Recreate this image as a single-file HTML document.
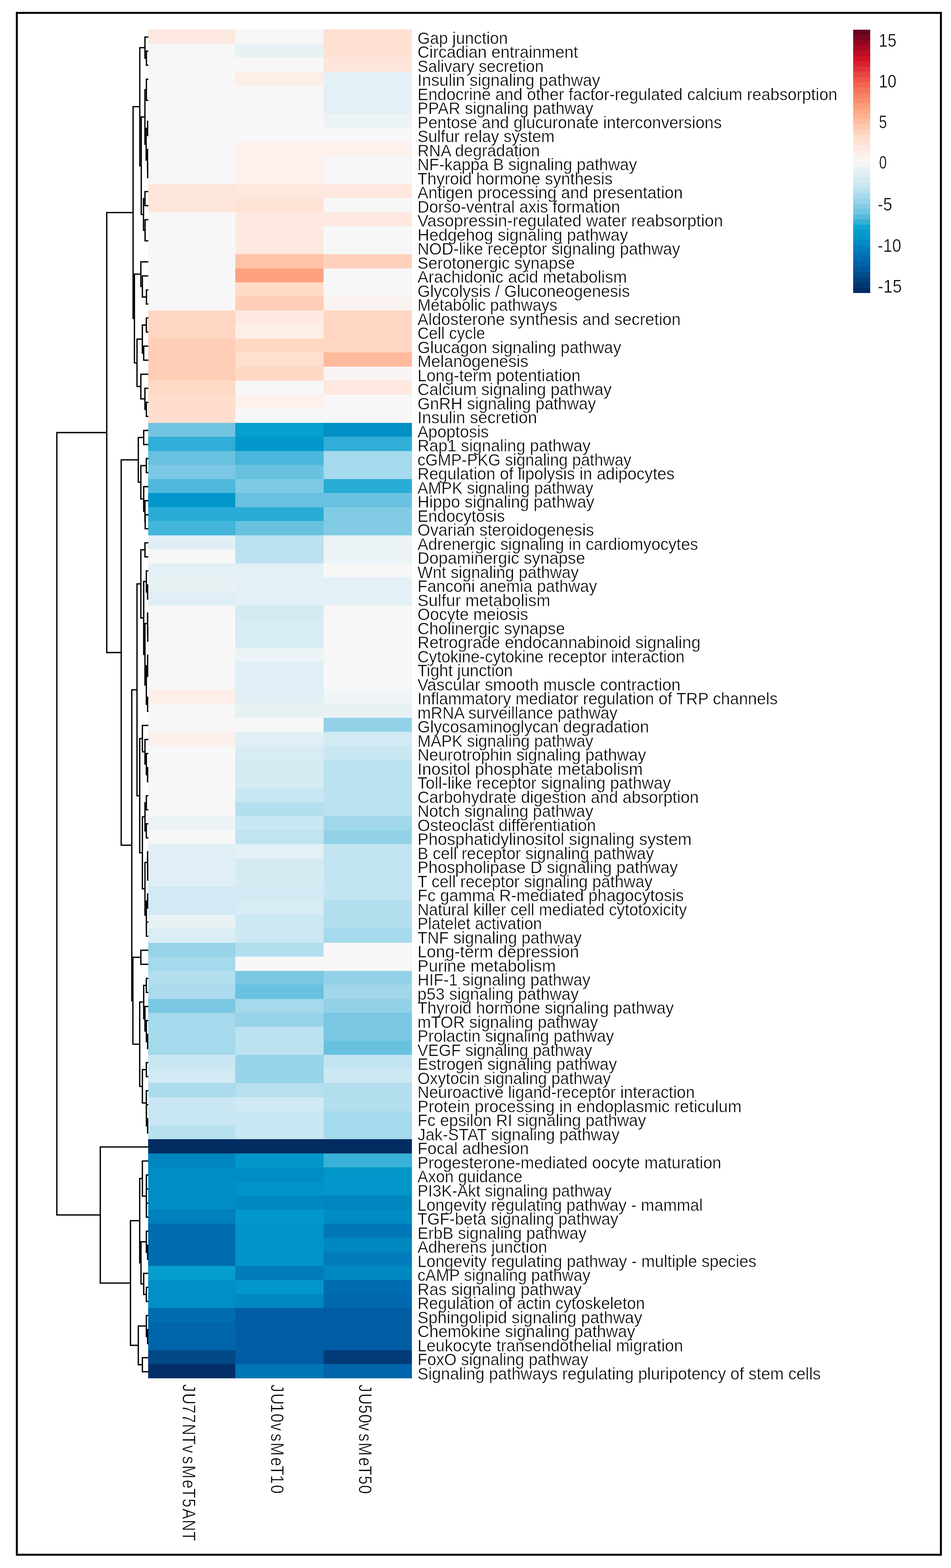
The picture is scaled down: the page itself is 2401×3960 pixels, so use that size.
<!DOCTYPE html>
<html lang="en">
<head>
<meta charset="utf-8">
<title>Pathway heatmap</title>
<style>
html,body{margin:0;padding:0;background:#fff}
body{width:2401px;height:3960px;overflow:hidden}
svg{display:block}
text{font-family:"Liberation Sans",sans-serif;fill:#000;stroke:#fff;stroke-width:0.7px}
.r{font-size:41.9px}
.l{font-size:46px}
.c{font-size:46px}
.d{fill:none;stroke:#000;stroke-width:3.3;stroke-linecap:butt;stroke-linejoin:miter}
</style>
</head>
<body>
<svg width="2401" height="3960" viewBox="0 0 2401 3960">
<rect x="0" y="0" width="2401" height="3960" fill="#fff"/>
<rect x="42.5" y="32.5" width="2333" height="3894" fill="none" stroke="#000" stroke-width="5"/>
<g shape-rendering="crispEdges">
<rect x="374" y="74.4" width="220.5" height="35.98" fill="#fee9e1"/>
<rect x="594" y="74.4" width="223" height="35.98" fill="#f7f7f7"/>
<rect x="816.5" y="74.4" width="223" height="35.98" fill="#ffe1d2"/>
<rect x="374" y="109.88" width="220.5" height="35.98" fill="#f7f7f7"/>
<rect x="594" y="109.88" width="223" height="35.98" fill="#e8f2f5"/>
<rect x="816.5" y="109.88" width="223" height="35.98" fill="#ffe1d2"/>
<rect x="374" y="145.36" width="220.5" height="35.98" fill="#f7f7f7"/>
<rect x="594" y="145.36" width="223" height="35.98" fill="#f7f7f7"/>
<rect x="816.5" y="145.36" width="223" height="35.98" fill="#fee5d9"/>
<rect x="374" y="180.84" width="220.5" height="35.98" fill="#f7f7f7"/>
<rect x="594" y="180.84" width="223" height="35.98" fill="#fdeee8"/>
<rect x="816.5" y="180.84" width="223" height="35.98" fill="#e3f0f5"/>
<rect x="374" y="216.32" width="220.5" height="35.98" fill="#f7f7f7"/>
<rect x="594" y="216.32" width="223" height="35.98" fill="#f7f7f7"/>
<rect x="816.5" y="216.32" width="223" height="35.98" fill="#e3f0f5"/>
<rect x="374" y="251.8" width="220.5" height="35.98" fill="#f7f7f7"/>
<rect x="594" y="251.8" width="223" height="35.98" fill="#f7f7f7"/>
<rect x="816.5" y="251.8" width="223" height="35.98" fill="#e3f0f5"/>
<rect x="374" y="287.28" width="220.5" height="35.98" fill="#f7f7f7"/>
<rect x="594" y="287.28" width="223" height="35.98" fill="#f7f7f7"/>
<rect x="816.5" y="287.28" width="223" height="35.98" fill="#ecf3f6"/>
<rect x="374" y="322.76" width="220.5" height="35.98" fill="#f7f7f7"/>
<rect x="594" y="322.76" width="223" height="35.98" fill="#f7f7f7"/>
<rect x="816.5" y="322.76" width="223" height="35.98" fill="#f7f7f7"/>
<rect x="374" y="358.24" width="220.5" height="35.98" fill="#f7f7f7"/>
<rect x="594" y="358.24" width="223" height="35.98" fill="#fcf1ed"/>
<rect x="816.5" y="358.24" width="223" height="35.98" fill="#fcf1ed"/>
<rect x="374" y="393.72" width="220.5" height="35.98" fill="#f7f7f7"/>
<rect x="594" y="393.72" width="223" height="35.98" fill="#fcf1ed"/>
<rect x="816.5" y="393.72" width="223" height="35.98" fill="#f7f7f7"/>
<rect x="374" y="429.2" width="220.5" height="35.98" fill="#f7f7f7"/>
<rect x="594" y="429.2" width="223" height="35.98" fill="#fcf1ed"/>
<rect x="816.5" y="429.2" width="223" height="35.98" fill="#f7f7f7"/>
<rect x="374" y="464.68" width="220.5" height="35.98" fill="#fee5d9"/>
<rect x="594" y="464.68" width="223" height="35.98" fill="#fee7dc"/>
<rect x="816.5" y="464.68" width="223" height="35.98" fill="#fee7de"/>
<rect x="374" y="500.16" width="220.5" height="35.98" fill="#fee5d9"/>
<rect x="594" y="500.16" width="223" height="35.98" fill="#fee2d5"/>
<rect x="816.5" y="500.16" width="223" height="35.98" fill="#f7f7f7"/>
<rect x="374" y="535.64" width="220.5" height="35.98" fill="#f7f7f7"/>
<rect x="594" y="535.64" width="223" height="35.98" fill="#fee9e1"/>
<rect x="816.5" y="535.64" width="223" height="35.98" fill="#fee8df"/>
<rect x="374" y="571.12" width="220.5" height="35.98" fill="#f7f7f7"/>
<rect x="594" y="571.12" width="223" height="35.98" fill="#fee9e1"/>
<rect x="816.5" y="571.12" width="223" height="35.98" fill="#f7f7f7"/>
<rect x="374" y="606.6" width="220.5" height="35.98" fill="#f7f7f7"/>
<rect x="594" y="606.6" width="223" height="35.98" fill="#fee9e1"/>
<rect x="816.5" y="606.6" width="223" height="35.98" fill="#f7f7f7"/>
<rect x="374" y="642.08" width="220.5" height="35.98" fill="#f7f7f7"/>
<rect x="594" y="642.08" width="223" height="35.98" fill="#ffc3a9"/>
<rect x="816.5" y="642.08" width="223" height="35.98" fill="#ffd1ba"/>
<rect x="374" y="677.56" width="220.5" height="35.98" fill="#f7f7f7"/>
<rect x="594" y="677.56" width="223" height="35.98" fill="#fea17f"/>
<rect x="816.5" y="677.56" width="223" height="35.98" fill="#f7f7f7"/>
<rect x="374" y="713.04" width="220.5" height="35.98" fill="#f7f7f7"/>
<rect x="594" y="713.04" width="223" height="35.98" fill="#ffdbc7"/>
<rect x="816.5" y="713.04" width="223" height="35.98" fill="#f7f7f7"/>
<rect x="374" y="748.52" width="220.5" height="35.98" fill="#f7f7f7"/>
<rect x="594" y="748.52" width="223" height="35.98" fill="#ffceb6"/>
<rect x="816.5" y="748.52" width="223" height="35.98" fill="#fbf3f0"/>
<rect x="374" y="784" width="220.5" height="35.98" fill="#ffd6c1"/>
<rect x="594" y="784" width="223" height="35.98" fill="#fee9e1"/>
<rect x="816.5" y="784" width="223" height="35.98" fill="#ffd6c1"/>
<rect x="374" y="819.48" width="220.5" height="35.98" fill="#ffd6c1"/>
<rect x="594" y="819.48" width="223" height="35.98" fill="#fdeee8"/>
<rect x="816.5" y="819.48" width="223" height="35.98" fill="#ffd6c1"/>
<rect x="374" y="854.96" width="220.5" height="35.98" fill="#ffceb6"/>
<rect x="594" y="854.96" width="223" height="35.98" fill="#ffd8c3"/>
<rect x="816.5" y="854.96" width="223" height="35.98" fill="#ffd6c1"/>
<rect x="374" y="890.44" width="220.5" height="35.98" fill="#ffceb6"/>
<rect x="594" y="890.44" width="223" height="35.98" fill="#ffdfcf"/>
<rect x="816.5" y="890.44" width="223" height="35.98" fill="#ffb99c"/>
<rect x="374" y="925.92" width="220.5" height="35.98" fill="#ffceb6"/>
<rect x="594" y="925.92" width="223" height="35.98" fill="#ffd8c3"/>
<rect x="816.5" y="925.92" width="223" height="35.98" fill="#f8f5f4"/>
<rect x="374" y="961.41" width="220.5" height="35.98" fill="#ffdbc7"/>
<rect x="594" y="961.41" width="223" height="35.98" fill="#f7f7f7"/>
<rect x="816.5" y="961.41" width="223" height="35.98" fill="#fee8df"/>
<rect x="374" y="996.89" width="220.5" height="35.98" fill="#ffdecd"/>
<rect x="594" y="996.89" width="223" height="35.98" fill="#fcf1ed"/>
<rect x="816.5" y="996.89" width="223" height="35.98" fill="#f7f7f7"/>
<rect x="374" y="1032.37" width="220.5" height="35.98" fill="#ffdecd"/>
<rect x="594" y="1032.37" width="223" height="35.98" fill="#f7f7f7"/>
<rect x="816.5" y="1032.37" width="223" height="35.98" fill="#f7f7f7"/>
<rect x="374" y="1067.85" width="220.5" height="35.98" fill="#71c4e2"/>
<rect x="594" y="1067.85" width="223" height="35.98" fill="#069fd0"/>
<rect x="816.5" y="1067.85" width="223" height="35.98" fill="#0090c6"/>
<rect x="374" y="1103.33" width="220.5" height="35.98" fill="#2faed7"/>
<rect x="594" y="1103.33" width="223" height="35.98" fill="#0297ca"/>
<rect x="816.5" y="1103.33" width="223" height="35.98" fill="#2faed7"/>
<rect x="374" y="1138.81" width="220.5" height="35.98" fill="#69c1e0"/>
<rect x="594" y="1138.81" width="223" height="35.98" fill="#4ab6db"/>
<rect x="816.5" y="1138.81" width="223" height="35.98" fill="#a5d9ec"/>
<rect x="374" y="1174.29" width="220.5" height="35.98" fill="#7cc8e4"/>
<rect x="594" y="1174.29" width="223" height="35.98" fill="#69c1e0"/>
<rect x="816.5" y="1174.29" width="223" height="35.98" fill="#a5d9ec"/>
<rect x="374" y="1209.77" width="220.5" height="35.98" fill="#4fb8dc"/>
<rect x="594" y="1209.77" width="223" height="35.98" fill="#7fcae4"/>
<rect x="816.5" y="1209.77" width="223" height="35.98" fill="#29acd6"/>
<rect x="374" y="1245.25" width="220.5" height="35.98" fill="#0297ca"/>
<rect x="594" y="1245.25" width="223" height="35.98" fill="#69c1e0"/>
<rect x="816.5" y="1245.25" width="223" height="35.98" fill="#69c1e0"/>
<rect x="374" y="1280.73" width="220.5" height="35.98" fill="#29acd6"/>
<rect x="594" y="1280.73" width="223" height="35.98" fill="#29acd6"/>
<rect x="816.5" y="1280.73" width="223" height="35.98" fill="#81cbe5"/>
<rect x="374" y="1316.21" width="220.5" height="35.98" fill="#44b5da"/>
<rect x="594" y="1316.21" width="223" height="35.98" fill="#69c1e0"/>
<rect x="816.5" y="1316.21" width="223" height="35.98" fill="#81cbe5"/>
<rect x="374" y="1351.69" width="220.5" height="35.98" fill="#e0eff5"/>
<rect x="594" y="1351.69" width="223" height="35.98" fill="#bbe2f0"/>
<rect x="816.5" y="1351.69" width="223" height="35.98" fill="#ebf3f6"/>
<rect x="374" y="1387.17" width="220.5" height="35.98" fill="#f7f7f7"/>
<rect x="594" y="1387.17" width="223" height="35.98" fill="#bbe2f0"/>
<rect x="816.5" y="1387.17" width="223" height="35.98" fill="#ebf3f6"/>
<rect x="374" y="1422.65" width="220.5" height="35.98" fill="#e3f0f5"/>
<rect x="594" y="1422.65" width="223" height="35.98" fill="#e3f0f5"/>
<rect x="816.5" y="1422.65" width="223" height="35.98" fill="#f7f7f7"/>
<rect x="374" y="1458.13" width="220.5" height="35.98" fill="#e8f2f5"/>
<rect x="594" y="1458.13" width="223" height="35.98" fill="#e3f0f5"/>
<rect x="816.5" y="1458.13" width="223" height="35.98" fill="#e3f0f5"/>
<rect x="374" y="1493.61" width="220.5" height="35.98" fill="#e0eff5"/>
<rect x="594" y="1493.61" width="223" height="35.98" fill="#e3f0f5"/>
<rect x="816.5" y="1493.61" width="223" height="35.98" fill="#e3f0f5"/>
<rect x="374" y="1529.09" width="220.5" height="35.98" fill="#f7f7f7"/>
<rect x="594" y="1529.09" width="223" height="35.98" fill="#d4ebf3"/>
<rect x="816.5" y="1529.09" width="223" height="35.98" fill="#f7f7f7"/>
<rect x="374" y="1564.57" width="220.5" height="35.98" fill="#f7f7f7"/>
<rect x="594" y="1564.57" width="223" height="35.98" fill="#d8ecf4"/>
<rect x="816.5" y="1564.57" width="223" height="35.98" fill="#f7f7f7"/>
<rect x="374" y="1600.05" width="220.5" height="35.98" fill="#f7f7f7"/>
<rect x="594" y="1600.05" width="223" height="35.98" fill="#d8ecf4"/>
<rect x="816.5" y="1600.05" width="223" height="35.98" fill="#f7f7f7"/>
<rect x="374" y="1635.53" width="220.5" height="35.98" fill="#f7f7f7"/>
<rect x="594" y="1635.53" width="223" height="35.98" fill="#ecf3f6"/>
<rect x="816.5" y="1635.53" width="223" height="35.98" fill="#f7f7f7"/>
<rect x="374" y="1671.01" width="220.5" height="35.98" fill="#f7f7f7"/>
<rect x="594" y="1671.01" width="223" height="35.98" fill="#e0eff5"/>
<rect x="816.5" y="1671.01" width="223" height="35.98" fill="#f7f7f7"/>
<rect x="374" y="1706.49" width="220.5" height="35.98" fill="#f7f7f7"/>
<rect x="594" y="1706.49" width="223" height="35.98" fill="#e0eff5"/>
<rect x="816.5" y="1706.49" width="223" height="35.98" fill="#f7f7f7"/>
<rect x="374" y="1741.97" width="220.5" height="35.98" fill="#fdeee8"/>
<rect x="594" y="1741.97" width="223" height="35.98" fill="#e0eff5"/>
<rect x="816.5" y="1741.97" width="223" height="35.98" fill="#eff4f6"/>
<rect x="374" y="1777.45" width="220.5" height="35.98" fill="#f7f7f7"/>
<rect x="594" y="1777.45" width="223" height="35.98" fill="#e8f2f5"/>
<rect x="816.5" y="1777.45" width="223" height="35.98" fill="#e8f2f5"/>
<rect x="374" y="1812.93" width="220.5" height="35.98" fill="#f7f7f7"/>
<rect x="594" y="1812.93" width="223" height="35.98" fill="#f7f7f7"/>
<rect x="816.5" y="1812.93" width="223" height="35.98" fill="#92d1e8"/>
<rect x="374" y="1848.41" width="220.5" height="35.98" fill="#fcf0ec"/>
<rect x="594" y="1848.41" width="223" height="35.98" fill="#e0eff5"/>
<rect x="816.5" y="1848.41" width="223" height="35.98" fill="#d1eaf3"/>
<rect x="374" y="1883.89" width="220.5" height="35.98" fill="#f7f7f7"/>
<rect x="594" y="1883.89" width="223" height="35.98" fill="#d8ecf4"/>
<rect x="816.5" y="1883.89" width="223" height="35.98" fill="#c9e7f2"/>
<rect x="374" y="1919.37" width="220.5" height="35.98" fill="#f7f7f7"/>
<rect x="594" y="1919.37" width="223" height="35.98" fill="#d4ebf3"/>
<rect x="816.5" y="1919.37" width="223" height="35.98" fill="#bbe2f0"/>
<rect x="374" y="1954.85" width="220.5" height="35.98" fill="#f7f7f7"/>
<rect x="594" y="1954.85" width="223" height="35.98" fill="#d4ebf3"/>
<rect x="816.5" y="1954.85" width="223" height="35.98" fill="#bbe2f0"/>
<rect x="374" y="1990.33" width="220.5" height="35.98" fill="#f7f7f7"/>
<rect x="594" y="1990.33" width="223" height="35.98" fill="#c9e7f2"/>
<rect x="816.5" y="1990.33" width="223" height="35.98" fill="#bbe2f0"/>
<rect x="374" y="2025.81" width="220.5" height="35.98" fill="#f7f7f7"/>
<rect x="594" y="2025.81" width="223" height="35.98" fill="#b3deee"/>
<rect x="816.5" y="2025.81" width="223" height="35.98" fill="#bbe2f0"/>
<rect x="374" y="2061.29" width="220.5" height="35.98" fill="#ecf3f6"/>
<rect x="594" y="2061.29" width="223" height="35.98" fill="#c9e7f2"/>
<rect x="816.5" y="2061.29" width="223" height="35.98" fill="#a0d7eb"/>
<rect x="374" y="2096.77" width="220.5" height="35.98" fill="#f7f7f7"/>
<rect x="594" y="2096.77" width="223" height="35.98" fill="#c0e4f1"/>
<rect x="816.5" y="2096.77" width="223" height="35.98" fill="#92d1e8"/>
<rect x="374" y="2132.25" width="220.5" height="35.98" fill="#e0eff5"/>
<rect x="594" y="2132.25" width="223" height="35.98" fill="#e3f0f5"/>
<rect x="816.5" y="2132.25" width="223" height="35.98" fill="#c3e5f1"/>
<rect x="374" y="2167.73" width="220.5" height="35.98" fill="#e0eff5"/>
<rect x="594" y="2167.73" width="223" height="35.98" fill="#d4ebf3"/>
<rect x="816.5" y="2167.73" width="223" height="35.98" fill="#c3e5f1"/>
<rect x="374" y="2203.21" width="220.5" height="35.98" fill="#e0eff5"/>
<rect x="594" y="2203.21" width="223" height="35.98" fill="#d4ebf3"/>
<rect x="816.5" y="2203.21" width="223" height="35.98" fill="#c3e5f1"/>
<rect x="374" y="2238.69" width="220.5" height="35.98" fill="#d1eaf3"/>
<rect x="594" y="2238.69" width="223" height="35.98" fill="#d1eaf3"/>
<rect x="816.5" y="2238.69" width="223" height="35.98" fill="#c3e5f1"/>
<rect x="374" y="2274.17" width="220.5" height="35.98" fill="#d1eaf3"/>
<rect x="594" y="2274.17" width="223" height="35.98" fill="#d8ecf4"/>
<rect x="816.5" y="2274.17" width="223" height="35.98" fill="#b3deee"/>
<rect x="374" y="2309.65" width="220.5" height="35.98" fill="#e8f2f5"/>
<rect x="594" y="2309.65" width="223" height="35.98" fill="#cce8f3"/>
<rect x="816.5" y="2309.65" width="223" height="35.98" fill="#b3deee"/>
<rect x="374" y="2345.13" width="220.5" height="35.98" fill="#dbedf4"/>
<rect x="594" y="2345.13" width="223" height="35.98" fill="#cce8f3"/>
<rect x="816.5" y="2345.13" width="223" height="35.98" fill="#a5d9ec"/>
<rect x="374" y="2380.61" width="220.5" height="35.98" fill="#97d3e9"/>
<rect x="594" y="2380.61" width="223" height="35.98" fill="#b3deee"/>
<rect x="816.5" y="2380.61" width="223" height="35.98" fill="#f7f7f7"/>
<rect x="374" y="2416.09" width="220.5" height="35.98" fill="#a5d9ec"/>
<rect x="594" y="2416.09" width="223" height="35.98" fill="#f7f7f7"/>
<rect x="816.5" y="2416.09" width="223" height="35.98" fill="#f7f7f7"/>
<rect x="374" y="2451.57" width="220.5" height="35.98" fill="#b3deee"/>
<rect x="594" y="2451.57" width="223" height="35.98" fill="#79c7e3"/>
<rect x="816.5" y="2451.57" width="223" height="35.98" fill="#92d1e8"/>
<rect x="374" y="2487.05" width="220.5" height="35.98" fill="#abdbed"/>
<rect x="594" y="2487.05" width="223" height="35.98" fill="#69c1e0"/>
<rect x="816.5" y="2487.05" width="223" height="35.98" fill="#a0d7eb"/>
<rect x="374" y="2522.53" width="220.5" height="35.98" fill="#79c7e3"/>
<rect x="594" y="2522.53" width="223" height="35.98" fill="#a5d9ec"/>
<rect x="816.5" y="2522.53" width="223" height="35.98" fill="#92d1e8"/>
<rect x="374" y="2558.01" width="220.5" height="35.98" fill="#a5d9ec"/>
<rect x="594" y="2558.01" width="223" height="35.98" fill="#97d3e9"/>
<rect x="816.5" y="2558.01" width="223" height="35.98" fill="#79c7e3"/>
<rect x="374" y="2593.49" width="220.5" height="35.98" fill="#a5d9ec"/>
<rect x="594" y="2593.49" width="223" height="35.98" fill="#bbe2f0"/>
<rect x="816.5" y="2593.49" width="223" height="35.98" fill="#79c7e3"/>
<rect x="374" y="2628.97" width="220.5" height="35.98" fill="#a5d9ec"/>
<rect x="594" y="2628.97" width="223" height="35.98" fill="#bbe2f0"/>
<rect x="816.5" y="2628.97" width="223" height="35.98" fill="#69c1e0"/>
<rect x="374" y="2664.46" width="220.5" height="35.98" fill="#c9e7f2"/>
<rect x="594" y="2664.46" width="223" height="35.98" fill="#97d3e9"/>
<rect x="816.5" y="2664.46" width="223" height="35.98" fill="#c3e5f1"/>
<rect x="374" y="2699.94" width="220.5" height="35.98" fill="#d1eaf3"/>
<rect x="594" y="2699.94" width="223" height="35.98" fill="#97d3e9"/>
<rect x="816.5" y="2699.94" width="223" height="35.98" fill="#cce8f3"/>
<rect x="374" y="2735.42" width="220.5" height="35.98" fill="#abdbed"/>
<rect x="594" y="2735.42" width="223" height="35.98" fill="#b6dfef"/>
<rect x="816.5" y="2735.42" width="223" height="35.98" fill="#b3deee"/>
<rect x="374" y="2770.9" width="220.5" height="35.98" fill="#c9e7f2"/>
<rect x="594" y="2770.9" width="223" height="35.98" fill="#d1eaf3"/>
<rect x="816.5" y="2770.9" width="223" height="35.98" fill="#b3deee"/>
<rect x="374" y="2806.38" width="220.5" height="35.98" fill="#c9e7f2"/>
<rect x="594" y="2806.38" width="223" height="35.98" fill="#c9e7f2"/>
<rect x="816.5" y="2806.38" width="223" height="35.98" fill="#a5d9ec"/>
<rect x="374" y="2841.86" width="220.5" height="35.98" fill="#b8e1ef"/>
<rect x="594" y="2841.86" width="223" height="35.98" fill="#c9e7f2"/>
<rect x="816.5" y="2841.86" width="223" height="35.98" fill="#a5d9ec"/>
<rect x="374" y="2877.34" width="220.5" height="35.98" fill="#022c62"/>
<rect x="594" y="2877.34" width="223" height="35.98" fill="#022c62"/>
<rect x="816.5" y="2877.34" width="223" height="35.98" fill="#022c62"/>
<rect x="374" y="2912.82" width="220.5" height="35.98" fill="#0085bf"/>
<rect x="594" y="2912.82" width="223" height="35.98" fill="#0297ca"/>
<rect x="816.5" y="2912.82" width="223" height="35.98" fill="#3ab1d8"/>
<rect x="374" y="2948.3" width="220.5" height="35.98" fill="#008dc4"/>
<rect x="594" y="2948.3" width="223" height="35.98" fill="#008dc4"/>
<rect x="816.5" y="2948.3" width="223" height="35.98" fill="#0297ca"/>
<rect x="374" y="2983.78" width="220.5" height="35.98" fill="#008dc4"/>
<rect x="594" y="2983.78" width="223" height="35.98" fill="#0194c9"/>
<rect x="816.5" y="2983.78" width="223" height="35.98" fill="#0297ca"/>
<rect x="374" y="3019.26" width="220.5" height="35.98" fill="#008dc4"/>
<rect x="594" y="3019.26" width="223" height="35.98" fill="#0088c1"/>
<rect x="816.5" y="3019.26" width="223" height="35.98" fill="#0085bf"/>
<rect x="374" y="3054.74" width="220.5" height="35.98" fill="#0080bc"/>
<rect x="594" y="3054.74" width="223" height="35.98" fill="#0298cb"/>
<rect x="816.5" y="3054.74" width="223" height="35.98" fill="#008dc4"/>
<rect x="374" y="3090.22" width="220.5" height="35.98" fill="#006db0"/>
<rect x="594" y="3090.22" width="223" height="35.98" fill="#0194c9"/>
<rect x="816.5" y="3090.22" width="223" height="35.98" fill="#0078b7"/>
<rect x="374" y="3125.7" width="220.5" height="35.98" fill="#006db0"/>
<rect x="594" y="3125.7" width="223" height="35.98" fill="#0194c9"/>
<rect x="816.5" y="3125.7" width="223" height="35.98" fill="#0088c1"/>
<rect x="374" y="3161.18" width="220.5" height="35.98" fill="#006db0"/>
<rect x="594" y="3161.18" width="223" height="35.98" fill="#0194c9"/>
<rect x="816.5" y="3161.18" width="223" height="35.98" fill="#007dba"/>
<rect x="374" y="3196.66" width="220.5" height="35.98" fill="#069ecf"/>
<rect x="594" y="3196.66" width="223" height="35.98" fill="#007dba"/>
<rect x="816.5" y="3196.66" width="223" height="35.98" fill="#0088c1"/>
<rect x="374" y="3232.14" width="220.5" height="35.98" fill="#0090c6"/>
<rect x="594" y="3232.14" width="223" height="35.98" fill="#0297ca"/>
<rect x="816.5" y="3232.14" width="223" height="35.98" fill="#006db0"/>
<rect x="374" y="3267.62" width="220.5" height="35.98" fill="#0090c6"/>
<rect x="594" y="3267.62" width="223" height="35.98" fill="#0088c1"/>
<rect x="816.5" y="3267.62" width="223" height="35.98" fill="#0068ad"/>
<rect x="374" y="3303.1" width="220.5" height="35.98" fill="#006db0"/>
<rect x="594" y="3303.1" width="223" height="35.98" fill="#005da4"/>
<rect x="816.5" y="3303.1" width="223" height="35.98" fill="#005da4"/>
<rect x="374" y="3338.58" width="220.5" height="35.98" fill="#0065ab"/>
<rect x="594" y="3338.58" width="223" height="35.98" fill="#005da4"/>
<rect x="816.5" y="3338.58" width="223" height="35.98" fill="#005da4"/>
<rect x="374" y="3374.06" width="220.5" height="35.98" fill="#0065ab"/>
<rect x="594" y="3374.06" width="223" height="35.98" fill="#005da4"/>
<rect x="816.5" y="3374.06" width="223" height="35.98" fill="#005da4"/>
<rect x="374" y="3409.54" width="220.5" height="35.98" fill="#014887"/>
<rect x="594" y="3409.54" width="223" height="35.98" fill="#005da4"/>
<rect x="816.5" y="3409.54" width="223" height="35.98" fill="#013c78"/>
<rect x="374" y="3445.02" width="220.5" height="35.48" fill="#022f66"/>
<rect x="594" y="3445.02" width="223" height="35.48" fill="#0075b5"/>
<rect x="816.5" y="3445.02" width="223" height="35.48" fill="#0065ab"/>
</g>
<path class="d" d="M374.5 129.1H369.6V164.6H374.5M374.5 93.6H366V146.9H369.6M374.5 200.1H369.6V253.3H374.5M374.5 306.5H372.6V342H374.5M374.5 413H372.8V448.4H374.5M374.5 377.5H372.4V430.7H372.8M372.6 324.3H369V404.1H372.4M369.6 226.7H365.9V364.2H369M374.5 483.9H366V519.4H374.5M374.5 554.9H366.3V608.1H374.5M366 501.7H362.3V581.5H366.3M365.9 295.4H356.6V541.6H362.3M366 120.3H352.9V418.5H356.6M374.5 732.3H369.7V767.8H374.5M374.5 696.8H359.5V750H369.7M374.5 661.3H355.6V723.4H359.5M374.5 803.2H369.5V838.7H374.5M374.5 874.2H362.8V909.7H374.5M369.5 821H359.4V891.9H362.8M374.5 1016.1H369.5V1051.6H374.5M374.5 980.6H365.9V1033.9H369.5M374.5 945.2H355.6V1007.3H365.9M359.4 856.5H345.9V976.2H355.6M355.6 692.4H339.4V916.3H345.9M352.9 269.4H336V804.4H339.4M374.5 1087.1H362.8V1122.6H374.5M374.5 1158H369.5V1193.5H374.5M374.5 1300H366.6V1335.4H374.5M374.5 1264.5H366V1317.7H366.6M374.5 1229H362.8V1291.1H366M369.5 1175.8H355.6V1260.1H362.8M362.8 1104.8H349.2V1217.9H355.6M374.5 1370.9H366V1406.4H374.5M374.5 1477.4H372.6V1512.8H374.5M374.5 1441.9H369.5V1495.1H372.6M374.5 1583.8H373V1619.3H374.5M374.5 1548.3H372.6V1601.5H373M374.5 1654.8H372.6V1708H374.5M374.5 1761.2H372.6V1796.7H374.5M372.6 1681.4H369.5V1778.9H372.6M372.6 1574.9H366V1730.2H369.5M369.5 1468.5H362.8V1652.6H366M366 1388.7H355.6V1560.5H362.8M374.5 1938.6H372.6V1974.1H374.5M374.5 1903.1H369.5V1956.4H372.6M374.5 1867.7H366V1929.7H369.5M374.5 1832.2H359.5V1898.7H366M374.5 2009.6H369.5V2045.1H374.5M374.5 2080.5H369.5V2116H374.5M369.5 2027.3H366V2098.3H369.5M374.5 2187H372.8V2222.5H374.5M374.5 2151.5H372.6V2204.7H372.8M374.5 2257.9H372.6V2293.4H374.5M374.5 2328.9H369.7V2364.4H374.5M372.6 2275.7H369.5V2346.6H369.7M372.6 2178.1H366V2311.2H369.5M366 2062.8H359.5V2244.6H366M359.5 1865.4H352.7V2153.7H359.5M355.6 1474.6H345.9V2009.6H352.7M374.5 2399.9H355.6V2435.3H374.5M374.5 2470.8H369.5V2506.3H374.5M374.5 2612.7H372.6V2648.2H374.5M374.5 2577.3H369.5V2630.5H372.6M374.5 2541.8H366V2603.9H369.5M369.5 2488.6H362.8V2572.8H366M374.5 2683.7H369.5V2719.2H374.5M374.5 2825.6H372.6V2861.1H374.5M374.5 2790.1H369.7V2843.4H372.6M374.5 2754.7H369.5V2816.7H369.7M369.5 2701.4H359.5V2785.7H369.5M362.8 2530.7H352.7V2743.6H359.5M355.6 2417.6H335.5V2637.1H352.7M345.9 1742.1H332.7V2527.4H335.5M349.2 1161.4H306V2134.7H332.7M336 536.9H269.5V1648H306M374.5 2967.5H369.6V3003H374.5M374.5 3038.5H369.6V3074H374.5M369.6 2985.3H369.5V3056.2H369.6M374.5 2932.1H359.5V3020.8H369.5M374.5 3144.9H372.6V3180.4H374.5M374.5 3109.5H369.5V3162.7H372.6M374.5 3251.4H369.5V3286.9H374.5M374.5 3215.9H362.8V3269.1H369.5M369.5 3136.1H356V3242.5H362.8M359.5 2976.4H352.7V3189.3H356M374.5 3357.8H372.6V3393.3H374.5M374.5 3322.3H369.5V3375.6H372.6M374.5 3428.8H359.5V3464.3H374.5M369.5 3348.9H349.2V3446.5H359.5M352.7 3082.8H329.4V3397.7H349.2M374.5 2896.6H253.2V3240.3H329.4M269.5 1092.5H143.5V3068.4H253.2"/>
<g class="r">
<text transform="translate(1054 110.5) scale(0.9705 1)">Gap junction</text>
<text transform="translate(1054 146.01) scale(0.9895 1)">Circadian entrainment</text>
<text transform="translate(1054 181.51) scale(0.9642 1)">Salivary secretion</text>
<text transform="translate(1054 217.02) scale(0.9909 1)">Insulin signaling pathway</text>
<text transform="translate(1054 252.52) scale(0.9811 1)">Endocrine and other factor-regulated calcium reabsorption</text>
<text transform="translate(1054 288.03) scale(0.9742 1)">PPAR signaling pathway</text>
<text transform="translate(1054 323.54) scale(0.9818 1)">Pentose and glucuronate interconversions</text>
<text transform="translate(1054 359.04) scale(0.9723 1)">Sulfur relay system</text>
<text transform="translate(1054 394.55) scale(0.9691 1)">RNA degradation</text>
<text transform="translate(1054 430.05) scale(0.9756 1)">NF-kappa B signaling pathway</text>
<text transform="translate(1054 465.56) scale(0.9802 1)">Thyroid hormone synthesis</text>
<text transform="translate(1054 501.07) scale(0.9852 1)">Antigen processing and presentation</text>
<text transform="translate(1054 536.57) scale(0.9768 1)">Dorso-ventral axis formation</text>
<text transform="translate(1054 572.08) scale(0.9960 1)">Vasopressin-regulated water reabsorption</text>
<text transform="translate(1054 607.58) scale(0.9879 1)">Hedgehog signaling pathway</text>
<text transform="translate(1054 643.09) scale(0.9755 1)">NOD-like receptor signaling pathway</text>
<text transform="translate(1054 678.6) scale(0.9810 1)">Serotonergic synapse</text>
<text transform="translate(1054 714.1) scale(0.9920 1)">Arachidonic acid metabolism</text>
<text transform="translate(1054 749.61) scale(0.9803 1)">Glycolysis / Gluconeogenesis</text>
<text transform="translate(1054 785.11) scale(0.9597 1)">Metabolic pathways</text>
<text transform="translate(1054 820.62) scale(0.9879 1)">Aldosterone synthesis and secretion</text>
<text transform="translate(1054 856.13) scale(0.9525 1)">Cell cycle</text>
<text transform="translate(1054 891.63) scale(0.9820 1)">Glucagon signaling pathway</text>
<text transform="translate(1054 927.14) scale(0.9945 1)">Melanogenesis</text>
<text transform="translate(1054 962.64) scale(0.9819 1)">Long-term potentiation</text>
<text transform="translate(1054 998.15) scale(0.9885 1)">Calcium signaling pathway</text>
<text transform="translate(1054 1033.66) scale(0.9771 1)">GnRH signaling pathway</text>
<text transform="translate(1054 1069.16) scale(0.9974 1)">Insulin secretion</text>
<text transform="translate(1054 1104.67) scale(0.9789 1)">Apoptosis</text>
<text transform="translate(1054 1140.17) scale(0.9830 1)">Rap1 signaling pathway</text>
<text transform="translate(1054 1175.68) scale(0.9589 1)">cGMP-PKG signaling pathway</text>
<text transform="translate(1054 1211.19) scale(0.9814 1)">Regulation of lipolysis in adipocytes</text>
<text transform="translate(1054 1246.69) scale(0.9579 1)">AMPK signaling pathway</text>
<text transform="translate(1054 1282.2) scale(0.9839 1)">Hippo signaling pathway</text>
<text transform="translate(1054 1317.7) scale(0.9766 1)">Endocytosis</text>
<text transform="translate(1054 1353.21) scale(0.9869 1)">Ovarian steroidogenesis</text>
<text transform="translate(1054 1388.72) scale(0.9754 1)">Adrenergic signaling in cardiomyocytes</text>
<text transform="translate(1054 1424.22) scale(0.9934 1)">Dopaminergic synapse</text>
<text transform="translate(1054 1459.73) scale(0.9712 1)">Wnt signaling pathway</text>
<text transform="translate(1054 1495.23) scale(0.9736 1)">Fanconi anemia pathway</text>
<text transform="translate(1054 1530.74) scale(1.0003 1)">Sulfur metabolism</text>
<text transform="translate(1054 1566.25) scale(0.9760 1)">Oocyte meiosis</text>
<text transform="translate(1054 1601.75) scale(0.9874 1)">Cholinergic synapse</text>
<text transform="translate(1054 1637.26) scale(0.9966 1)">Retrograde endocannabinoid signaling</text>
<text transform="translate(1054 1672.76) scale(0.9622 1)">Cytokine-cytokine receptor interaction</text>
<text transform="translate(1054 1708.27) scale(0.9724 1)">Tight junction</text>
<text transform="translate(1054 1743.78) scale(0.9915 1)">Vascular smooth muscle contraction</text>
<text transform="translate(1054 1779.28) scale(0.9758 1)">Inflammatory mediator regulation of TRP channels</text>
<text transform="translate(1054 1814.79) scale(0.9682 1)">mRNA surveillance pathway</text>
<text transform="translate(1054 1850.29) scale(0.9806 1)">Glycosaminoglycan degradation</text>
<text transform="translate(1054 1885.8) scale(0.9579 1)">MAPK signaling pathway</text>
<text transform="translate(1054 1921.31) scale(0.9834 1)">Neurotrophin signaling pathway</text>
<text transform="translate(1054 1956.81) scale(1.0050 1)">Inositol phosphate metabolism</text>
<text transform="translate(1054 1992.32) scale(0.9847 1)">Toll-like receptor signaling pathway</text>
<text transform="translate(1054 2027.82) scale(0.9841 1)">Carbohydrate digestion and absorption</text>
<text transform="translate(1054 2063.33) scale(0.9775 1)">Notch signaling pathway</text>
<text transform="translate(1054 2098.84) scale(0.9789 1)">Osteoclast differentiation</text>
<text transform="translate(1054 2134.34) scale(1.0012 1)">Phosphatidylinositol signaling system</text>
<text transform="translate(1054 2169.85) scale(0.9748 1)">B cell receptor signaling pathway</text>
<text transform="translate(1054 2205.35) scale(0.9939 1)">Phospholipase D signaling pathway</text>
<text transform="translate(1054 2240.86) scale(0.9737 1)">T cell receptor signaling pathway</text>
<text transform="translate(1054 2276.37) scale(0.9859 1)">Fc gamma R-mediated phagocytosis</text>
<text transform="translate(1054 2311.87) scale(0.9610 1)">Natural killer cell mediated cytotoxicity</text>
<text transform="translate(1054 2347.38) scale(0.9574 1)">Platelet activation</text>
<text transform="translate(1054 2382.88) scale(0.9726 1)">TNF signaling pathway</text>
<text transform="translate(1054 2418.39) scale(1.0011 1)">Long-term depression</text>
<text transform="translate(1054 2453.9) scale(1.0070 1)">Purine metabolism</text>
<text transform="translate(1054 2489.4) scale(0.9713 1)">HIF-1 signaling pathway</text>
<text transform="translate(1054 2524.91) scale(0.9819 1)">p53 signaling pathway</text>
<text transform="translate(1054 2560.41) scale(0.9784 1)">Thyroid hormone signaling pathway</text>
<text transform="translate(1054 2595.92) scale(0.9752 1)">mTOR signaling pathway</text>
<text transform="translate(1054 2631.43) scale(0.9773 1)">Prolactin signaling pathway</text>
<text transform="translate(1054 2666.93) scale(0.9612 1)">VEGF signaling pathway</text>
<text transform="translate(1054 2702.44) scale(0.9828 1)">Estrogen signaling pathway</text>
<text transform="translate(1054 2737.94) scale(0.9614 1)">Oxytocin signaling pathway</text>
<text transform="translate(1054 2773.45) scale(0.9730 1)">Neuroactive ligand-receptor interaction</text>
<text transform="translate(1054 2808.96) scale(0.9983 1)">Protein processing in endoplasmic reticulum</text>
<text transform="translate(1054 2844.46) scale(0.9796 1)">Fc epsilon RI signaling pathway</text>
<text transform="translate(1054 2879.97) scale(0.9737 1)">Jak-STAT signaling pathway</text>
<text transform="translate(1054 2915.47) scale(0.9901 1)">Focal adhesion</text>
<text transform="translate(1054 2950.98) scale(0.9805 1)">Progesterone-mediated oocyte maturation</text>
<text transform="translate(1054 2986.49) scale(0.9560 1)">Axon guidance</text>
<text transform="translate(1054 3021.99) scale(0.9613 1)">PI3K-Akt signaling pathway</text>
<text transform="translate(1054 3057.5) scale(0.9727 1)">Longevity regulating pathway - mammal</text>
<text transform="translate(1054 3093) scale(0.9681 1)">TGF-beta signaling pathway</text>
<text transform="translate(1054 3128.51) scale(0.9752 1)">ErbB signaling pathway</text>
<text transform="translate(1054 3164.02) scale(0.9770 1)">Adherens junction</text>
<text transform="translate(1054 3199.52) scale(0.9749 1)">Longevity regulating pathway - multiple species</text>
<text transform="translate(1054 3235.03) scale(0.9581 1)">cAMP signaling pathway</text>
<text transform="translate(1054 3270.53) scale(0.9887 1)">Ras signaling pathway</text>
<text transform="translate(1054 3306.04) scale(0.9708 1)">Regulation of actin cytoskeleton</text>
<text transform="translate(1054 3341.55) scale(0.9906 1)">Sphingolipid signaling pathway</text>
<text transform="translate(1054 3377.05) scale(0.9880 1)">Chemokine signaling pathway</text>
<text transform="translate(1054 3412.56) scale(0.9830 1)">Leukocyte transendothelial migration</text>
<text transform="translate(1054 3448.06) scale(0.9648 1)">FoxO signaling pathway</text>
<text transform="translate(1054 3483.57) scale(0.9807 1)">Signaling pathways regulating pluripotency of stem cells</text>
</g>
<g class="c">
<text transform="translate(460.9 3480) rotate(90) scale(0.86 1)" x="18.3 44.9 78.8 106.5 135.2 167.9 197.7 229.8 256.7 299.2 324.1 354.3 383.6 416.7 451">JU77NTvsMeT5ANT</text>
<text transform="translate(683.6 3480) rotate(90) scale(0.86 1)" x="18.8 45.4 76.4 105 132.3 163.4 189.8 233.3 257.6 285.1 314.2">JU10vsMeT10</text>
<text transform="translate(906.2 3480) rotate(90) scale(0.86 1)" x="18.8 45.4 79.1 107 132.3 163.4 189.8 233.3 257.6 287.3 314.7">JU50vsMeT50</text>
</g>
<g shape-rendering="crispEdges">
<rect x="2154.2" y="726.2" width="43.1" height="13.3" fill="#022c62"/>
<rect x="2154.2" y="712.9" width="43.1" height="13.8" fill="#023770"/>
<rect x="2154.2" y="699.61" width="43.1" height="13.8" fill="#01417f"/>
<rect x="2154.2" y="686.31" width="43.1" height="13.8" fill="#014c8d"/>
<rect x="2154.2" y="673.01" width="43.1" height="13.8" fill="#00569b"/>
<rect x="2154.2" y="659.71" width="43.1" height="13.8" fill="#0061a9"/>
<rect x="2154.2" y="646.41" width="43.1" height="13.8" fill="#006baf"/>
<rect x="2154.2" y="633.12" width="43.1" height="13.8" fill="#0076b6"/>
<rect x="2154.2" y="619.82" width="43.1" height="13.8" fill="#0080bc"/>
<rect x="2154.2" y="606.52" width="43.1" height="13.8" fill="#008bc3"/>
<rect x="2154.2" y="593.22" width="43.1" height="13.8" fill="#0195c9"/>
<rect x="2154.2" y="579.92" width="43.1" height="13.8" fill="#059dce"/>
<rect x="2154.2" y="566.63" width="43.1" height="13.8" fill="#10a5d3"/>
<rect x="2154.2" y="553.33" width="43.1" height="13.8" fill="#34afd7"/>
<rect x="2154.2" y="540.03" width="43.1" height="13.8" fill="#56bbdd"/>
<rect x="2154.2" y="526.73" width="43.1" height="13.8" fill="#73c5e2"/>
<rect x="2154.2" y="513.43" width="43.1" height="13.8" fill="#85cce6"/>
<rect x="2154.2" y="500.14" width="43.1" height="13.8" fill="#97d3e9"/>
<rect x="2154.2" y="486.84" width="43.1" height="13.8" fill="#a9dbec"/>
<rect x="2154.2" y="473.54" width="43.1" height="13.8" fill="#bbe2f0"/>
<rect x="2154.2" y="460.24" width="43.1" height="13.8" fill="#cae7f2"/>
<rect x="2154.2" y="446.94" width="43.1" height="13.8" fill="#d4ebf3"/>
<rect x="2154.2" y="433.65" width="43.1" height="13.8" fill="#deeef4"/>
<rect x="2154.2" y="420.35" width="43.1" height="13.8" fill="#e8f2f5"/>
<rect x="2154.2" y="407.05" width="43.1" height="13.8" fill="#f2f5f6"/>
<rect x="2154.2" y="393.75" width="43.1" height="13.8" fill="#f9f4f2"/>
<rect x="2154.2" y="380.45" width="43.1" height="13.8" fill="#fdeee9"/>
<rect x="2154.2" y="367.16" width="43.1" height="13.8" fill="#fee8df"/>
<rect x="2154.2" y="353.86" width="43.1" height="13.8" fill="#fee3d5"/>
<rect x="2154.2" y="340.56" width="43.1" height="13.8" fill="#ffddcb"/>
<rect x="2154.2" y="327.26" width="43.1" height="13.8" fill="#ffd4bf"/>
<rect x="2154.2" y="313.96" width="43.1" height="13.8" fill="#ffc9b0"/>
<rect x="2154.2" y="300.67" width="43.1" height="13.8" fill="#ffbea2"/>
<rect x="2154.2" y="287.37" width="43.1" height="13.8" fill="#ffb394"/>
<rect x="2154.2" y="274.07" width="43.1" height="13.8" fill="#ffa886"/>
<rect x="2154.2" y="260.77" width="43.1" height="13.8" fill="#fe9c7b"/>
<rect x="2154.2" y="247.47" width="43.1" height="13.8" fill="#fc8e70"/>
<rect x="2154.2" y="234.18" width="43.1" height="13.8" fill="#f98165"/>
<rect x="2154.2" y="220.88" width="43.1" height="13.8" fill="#f7745b"/>
<rect x="2154.2" y="207.58" width="43.1" height="13.8" fill="#f56750"/>
<rect x="2154.2" y="194.28" width="43.1" height="13.8" fill="#ef5648"/>
<rect x="2154.2" y="180.98" width="43.1" height="13.8" fill="#e74540"/>
<rect x="2154.2" y="167.69" width="43.1" height="13.8" fill="#e03338"/>
<rect x="2154.2" y="154.39" width="43.1" height="13.8" fill="#d82231"/>
<rect x="2154.2" y="141.09" width="43.1" height="13.8" fill="#d11129"/>
<rect x="2154.2" y="127.79" width="43.1" height="13.8" fill="#bd0c26"/>
<rect x="2154.2" y="114.49" width="43.1" height="13.8" fill="#a70925"/>
<rect x="2154.2" y="101.2" width="43.1" height="13.8" fill="#920623"/>
<rect x="2154.2" y="87.9" width="43.1" height="13.8" fill="#7c0321"/>
<rect x="2154.2" y="74.6" width="43.1" height="13.8" fill="#67001f"/>
</g>
<g class="l">
<text transform="translate(2218.58 117.5) scale(0.8751 1)">15</text>
<text transform="translate(2218.8 220.5) scale(0.8686 1)">10</text>
<text transform="translate(2219.04 323.7) scale(0.7926 1)">5</text>
<text transform="translate(2219.46 426.4) scale(0.7542 1)">0</text>
<text transform="translate(2215.95 532.4) scale(0.8958 1)">-5</text>
<text transform="translate(2215.96 635.9) scale(0.8939 1)">-10</text>
<text transform="translate(2215.91 739) scale(0.9193 1)">-15</text>
</g>
</svg>
</body>
</html>
